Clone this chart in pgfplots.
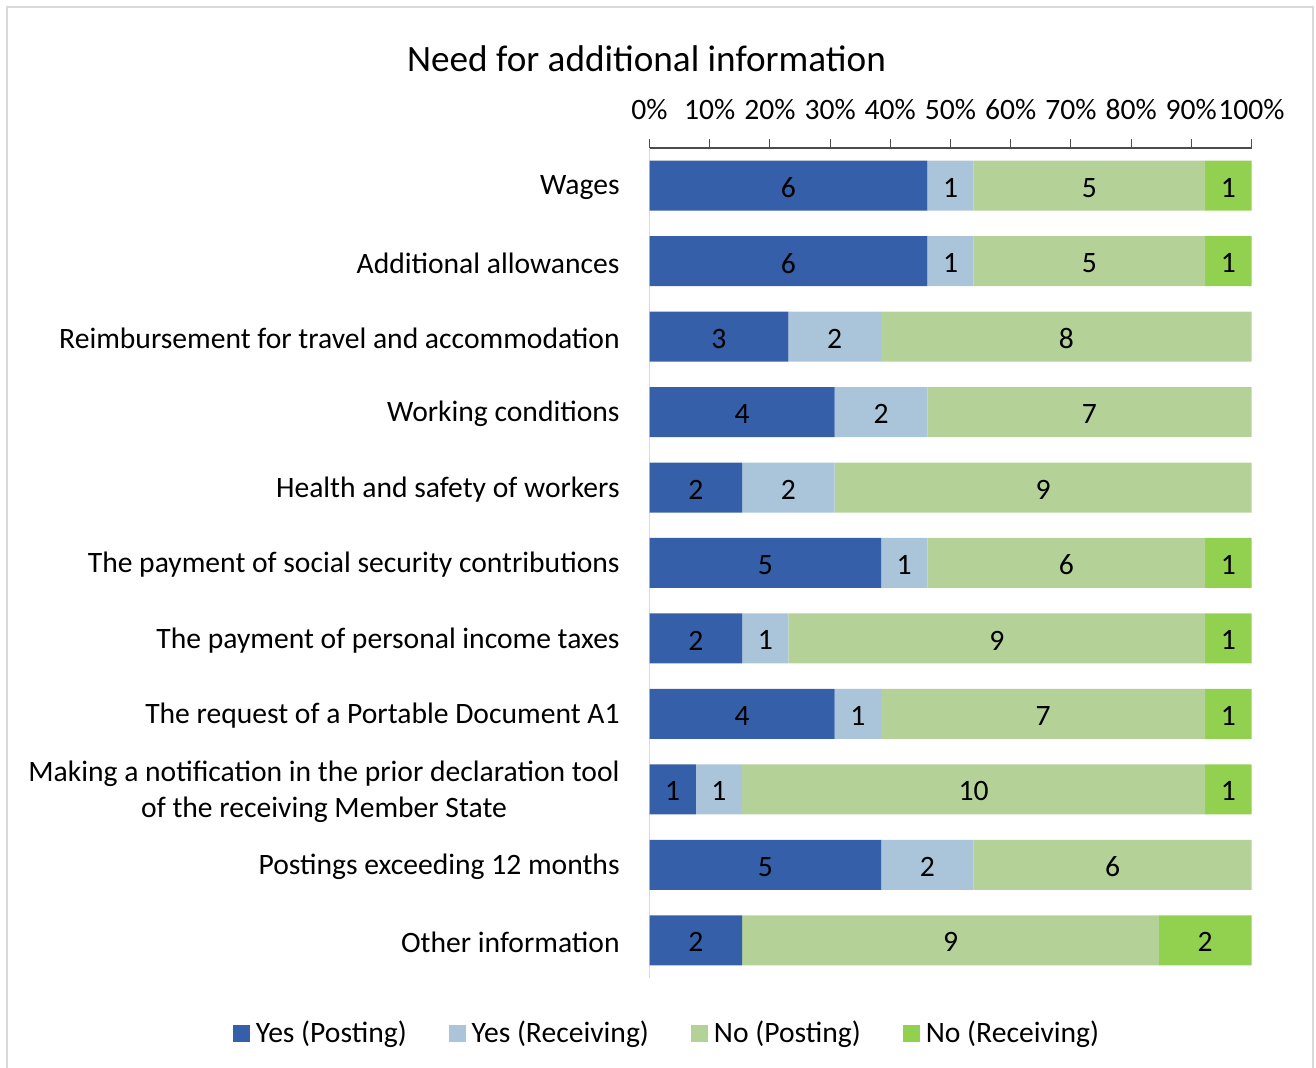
\documentclass[border=0pt]{standalone}
\usepackage{fontspec}
\setmainfont{Carlito}
\usepackage{pgfplots}
\pgfplotsset{compat=1.18}
\definecolor{c1}{HTML}{355FA9}
\definecolor{c2}{HTML}{AAC5D9}
\definecolor{c3}{HTML}{B4D297}
\definecolor{c4}{HTML}{92D050}
\definecolor{frame}{HTML}{D9D9D9}
\newcommand\lab{\fontsize{14.8}{18}\selectfont}
\begin{document}
\begin{tikzpicture}
\useasboundingbox (0,0) rectangle (658pt,534pt);
\draw[frame, line width=0.75pt] (3.5pt,-5pt) -- (3.5pt,530.5pt) -- (656.5pt,530.5pt) -- (656.5pt,-5pt);
\node[anchor=base, inner sep=0pt, font=\fontsize{18.6}{22}\selectfont] at (323.25pt,498.2pt) {Need for additional information};
\begin{axis}[
  at={(324.75pt,45pt)}, anchor=south west, scale only axis, width=301pt, height=415pt,
  xbar stacked, bar width=25pt,
  xmin=0, xmax=13, ymin=-0.5, ymax=10.5,
  axis x line*=top, axis y line*=left,
  x axis line style={black!70,-,line width=0.6pt}, y axis line style={frame,-,line width=0.75pt},
  tick align=outside, major tick length=4.5pt,
  xtick={0,1.3,2.6,3.9,5.2,6.5,7.8,9.1,10.4,11.7,13},
  xticklabels={0\%,10\%,20\%,30\%,40\%,50\%,60\%,70\%,80\%,90\%,100\%},
  xtick style={black!70,line width=0.5pt},
  xticklabel style={anchor=south, inner sep=0pt, yshift=9.5pt},
  ytick={0,...,10},
  yticklabels={Other information, Postings exceeding 12 months, {Making a notification in the prior declaration tool\\of the receiving Member State}, The request of a Portable Document A1, The payment of personal income taxes, The payment of social security contributions, Health and safety of workers, Working conditions, Reimbursement for travel and accommodation, Additional allowances, Wages},
  ytick style={draw=none},
  yticklabel style={align=center, inner sep=0pt, xshift=-10.25pt, yshift=-1pt},
  ticklabel style={font=\lab},
  legend style={at={(axis description cs:0.0308,-0.0663)}, anchor=center, draw=none, fill=none, font=\lab,
    legend columns=4, /tikz/every even column/.append style={column sep=19pt}},
  legend image code/.code={\path (0pt,0pt) -- (9.5pt,0pt); \fill[#1] (0pt,-4.25pt) rectangle (8.5pt,4.25pt);},
]
\addplot[fill=c1, draw=none] coordinates {(6,10)(6,9)(3,8)(4,7)(2,6)(5,5)(2,4)(4,3)(1,2)(5,1)(2,0)};
\addplot[fill=c2, draw=none] coordinates {(1,10)(1,9)(2,8)(2,7)(2,6)(1,5)(1,4)(1,3)(1,2)(2,1)(0,0)};
\addplot[fill=c3, draw=none] coordinates {(5,10)(5,9)(8,8)(7,7)(9,6)(6,5)(9,4)(7,3)(10,2)(6,1)(9,0)};
\addplot[fill=c4, draw=none] coordinates {(1,10)(1,9)(0,8)(0,7)(0,6)(1,5)(1,4)(1,3)(1,2)(0,1)(2,0)};
\legend{Yes (Posting), Yes (Receiving), No (Posting), No (Receiving)}
\end{axis}
\begin{axis}[
  at={(324.75pt,45pt)}, anchor=south west, scale only axis, width=301pt, height=415pt,
  xmin=0, xmax=13, ymin=-0.5, ymax=10.5, hide axis,
]
\addplot[draw=none, mark=none, nodes near coords, point meta=explicit symbolic,
  every node near coord/.append style={anchor=center, font=\lab, inner sep=0pt, yshift=-1pt}]
coordinates {
(3,10)[6] (6.5,10)[1] (9.5,10)[5] (12.5,10)[1]
(3,9)[6] (6.5,9)[1] (9.5,9)[5] (12.5,9)[1]
(1.5,8)[3] (4,8)[2] (9,8)[8]
(2,7)[4] (5,7)[2] (9.5,7)[7]
(1,6)[2] (3,6)[2] (8.5,6)[9]
(2.5,5)[5] (5.5,5)[1] (9,5)[6] (12.5,5)[1]
(1,4)[2] (2.5,4)[1] (7.5,4)[9] (12.5,4)[1]
(2,3)[4] (4.5,3)[1] (8.5,3)[7] (12.5,3)[1]
(0.5,2)[1] (1.5,2)[1] (7,2)[10] (12.5,2)[1]
(2.5,1)[5] (6,1)[2] (10,1)[6]
(1,0)[2] (6.5,0)[9] (12,0)[2]
};
\end{axis}
\end{tikzpicture}
\end{document}
